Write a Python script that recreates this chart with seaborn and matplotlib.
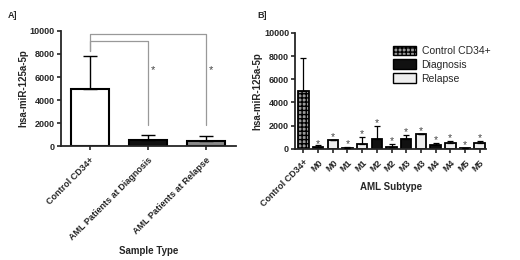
import matplotlib
matplotlib.use("Agg")
import matplotlib.pyplot as plt
import seaborn as sns
import pandas as pd
import numpy as np
from matplotlib.patches import Patch

sns.set_style("ticks")
plt.rcParams['font.family'] = ['Liberation Sans', 'DejaVu Sans']

# Panel A data
a_categories = ["Control CD34+", "AML Patients at Diagnosis", "AML Patients at Relapse"]
a_means = [5000, 500, 480]
a_upper = [7850, 1000, 850]
a_colors = ["white", "#111111", "#8a8a8a"]
# significance brackets: (from idx, to idx, bracket height, drop-to value)
a_brackets = [(0, 2, 9700, 1800), (0, 1, 9100, 1800)]
a_star_y = 6600

# Panel B data
b_labels = ["Control CD34+", "M0", "M0", "M1", "M1", "M2", "M2", "M3", "M3", "M4", "M4", "M5", "M5"]
b_groups = ["Control CD34+"] + ["Diagnosis", "Relapse"] * 6
b_means = [5000, 200, 750, 100, 450, 900, 150, 850, 1250, 300, 500, 80, 500]
b_upper = [7850, 300, 750, 150, 1000, 1950, 450, 1200, 1250, 550, 700, 100, 650]
b_star = [None, 450, 1000, 450, 1300, 2250, 700, 1450, 1550, 800, 950, 350, 900]
b_palette = {"Control CD34+": "#9a9a9a", "Diagnosis": "#111111", "Relapse": "#eeeeee"}

fig = plt.figure(figsize=(5.2, 2.6), dpi=100)
axA = fig.add_axes([0.117, 0.438, 0.337, 0.443])
axB = fig.add_axes([0.568, 0.427, 0.367, 0.447])

bold = dict(fontweight="bold")
TICK = 6.5
LAB = 7.0

# ---- Panel A ----
dfA = pd.DataFrame({"cat": a_categories, "val": a_means})
sns.barplot(data=dfA, x="cat", y="val", hue="cat", palette=a_colors, legend=False,
            width=0.65, edgecolor="black", linewidth=1.5, ax=axA, errorbar=None)
xA = np.arange(len(a_categories))
axA.errorbar(xA, a_means, yerr=[np.zeros(len(a_means)), np.array(a_upper) - np.array(a_means)],
             fmt="none", ecolor="black", elinewidth=1.0, capsize=5, capthick=1.0, zorder=5)
for i, j, h, d in a_brackets:
    axA.plot([i, i, j, j], [8300, h, h, d], color="#999999", lw=0.9, zorder=1)
    axA.text(j + 0.08, a_star_y, "*", ha="center", va="center", fontsize=8, color="#444444")
axA.set_xlim(-0.5, 2.52)
axA.set_ylim(0, 10000)
axA.set_yticks(range(0, 10001, 2000))
axA.set_xticks(xA)
axA.set_xticklabels(a_categories, rotation=45, ha="right", rotation_mode="anchor", fontsize=TICK, **bold)
axA.tick_params(axis="y", labelsize=TICK, width=1.2, length=3, pad=1.5)
axA.tick_params(axis="x", width=1.2, length=3)
for lab in axA.get_yticklabels():
    lab.set_fontweight("bold")
axA.set_ylabel("hsa-miR-125a-5p", fontsize=LAB, labelpad=0.5, **bold)
axA.set_xlabel("Sample Type", fontsize=LAB, labelpad=3, **bold)
for s in ["left", "bottom"]:
    axA.spines[s].set_linewidth(1.3)
sns.despine(ax=axA)

# ---- Panel B ----
b_ids = [f"c{i}" for i in range(len(b_labels))]
dfB = pd.DataFrame({"id": b_ids, "val": b_means, "group": b_groups})
sns.barplot(data=dfB, x="id", y="val", hue="group", palette=b_palette, dodge=False, legend=False,
            width=0.72, edgecolor="black", linewidth=1.3, ax=axB, errorbar=None)
for p in axB.patches:
    if abs(p.get_height() - b_means[0]) < 1e-6:
        p.set_hatch("++++")
        p.set_width(0.75)
        p.set_x(-0.375)
xB = np.arange(len(b_labels))
axB.errorbar(xB, b_means, yerr=[np.zeros(len(b_means)), np.array(b_upper) - np.array(b_means)],
             fmt="none", ecolor="black", elinewidth=0.9, capsize=2.5, capthick=0.9, zorder=5)
for x, s in zip(xB, b_star):
    if s is not None:
        axB.text(x, s, "*", ha="center", va="center", fontsize=7.5, color="#444444")
axB.set_xlim(-0.55, 12.45)
axB.set_ylim(0, 10000)
axB.set_yticks(range(0, 10001, 2000))
axB.set_xticks(xB)
axB.set_xticklabels(b_labels, rotation=45, ha="right", rotation_mode="anchor", fontsize=TICK, **bold)
axB.tick_params(axis="y", labelsize=TICK, width=1.2, length=3, pad=1.5)
axB.tick_params(axis="x", width=1.2, length=3)
for lab in axB.get_yticklabels():
    lab.set_fontweight("bold")
axB.set_ylabel("hsa-miR-125a-5p", fontsize=LAB, labelpad=1, **bold)
axB.set_xlabel("AML Subtype", fontsize=LAB, **bold)
axB.xaxis.set_label_coords(0.5, -0.28)
for s in ["left", "bottom"]:
    axB.spines[s].set_linewidth(1.3)
sns.despine(ax=axB)

handles = [Patch(facecolor=b_palette["Control CD34+"], edgecolor="black", hatch="++++", label="Control CD34+"),
           Patch(facecolor=b_palette["Diagnosis"], edgecolor="black", label="Diagnosis"),
           Patch(facecolor=b_palette["Relapse"], edgecolor="black", label="Relapse")]
axB.legend(handles=handles, loc="upper right", bbox_to_anchor=(1.07, 0.97), frameon=False, fontsize=7.5,
           handlelength=2.2, handleheight=1.0, labelspacing=0.35, handletextpad=0.5)

fig.text(0.015, 0.93, "A]", fontsize=6.5, **bold)
fig.text(0.494, 0.93, "B]", fontsize=6.5, **bold)

fig.savefig("out.png", dpi=100)
